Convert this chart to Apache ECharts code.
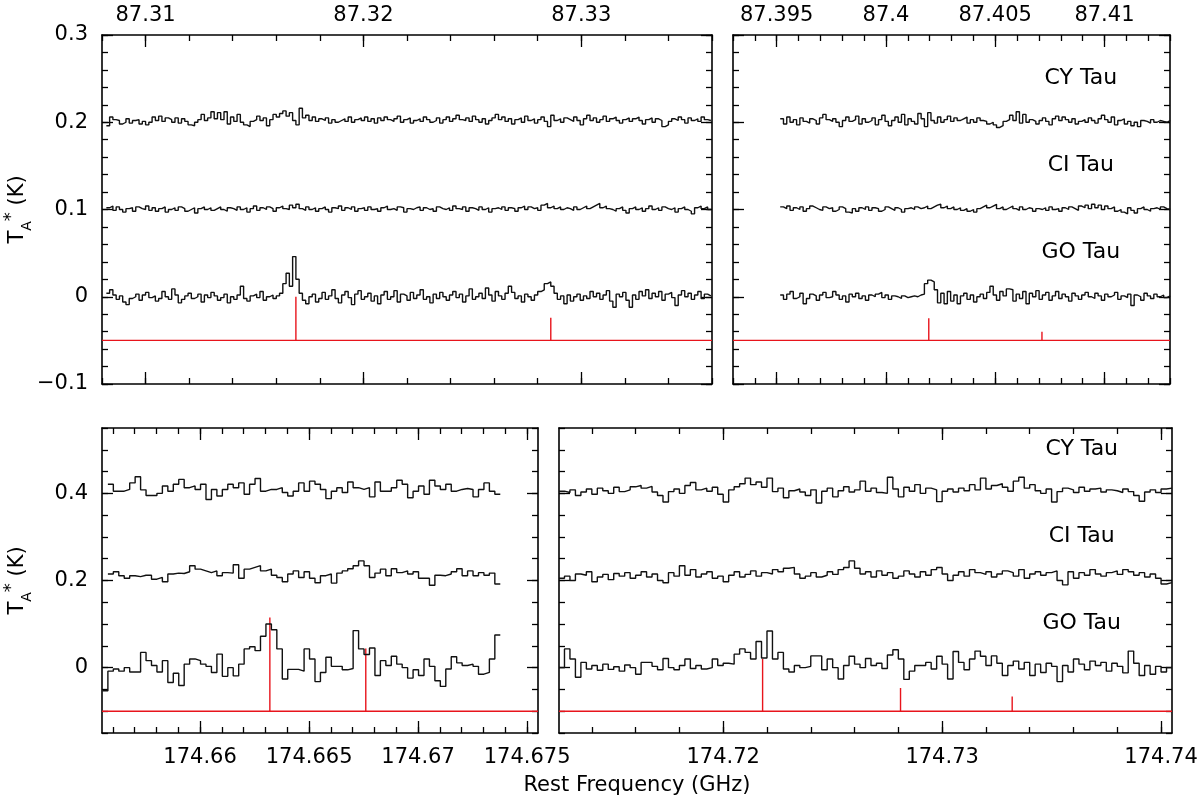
<!DOCTYPE html>
<html>
<head>
<meta charset="utf-8">
<script src="https://cdn.jsdelivr.net/npm/echarts@6/dist/echarts.min.js"></script>
<style>
  html, body { margin: 0; padding: 0; background: #fff; }
  #main { width: 1200px; height: 800px; }
</style>
</head>
<body>
<div id="main"></div>
<script>
// ---- data (intensities in mK, relative to each source's offset) ----
var sources = ['CY Tau', 'CI Tau', 'GO Tau'];
var offsetsTop = [0.2, 0.1, 0];
var offsetsBottom = [0.4, 0.2, 0];

// top left: 87.308 - 87.336 GHz
var tlStart = 87.3082, tlStep = 0.00015;
var tlCY = [-4,6,3,2,-2,0,4,-1,2,3,-2,1,-3,0,6,2,7,1,5,3,
  0,5,-1,4,1,-3,-4,0,3,9,2,5,12,4,11,3,12,-2,6,1,
  9,0,-3,-5,1,3,7,2,5,-4,3,9,6,10,13,7,11,2,-3,16,
  5,8,2,6,1,4,2,5,-1,3,0,2,4,1,6,0,3,5,2,6,
  1,4,-1,5,2,6,3,1,4,7,0,3,5,-1,2,4,1,6,3,0,
  2,5,-1,3,6,1,4,8,3,2,5,1,7,3,0,4,-2,2,5,9,
  3,6,1,4,-2,3,5,0,7,2,4,-1,3,6,1,-5,8,2,4,0,
  5,3,1,6,2,-3,4,8,2,5,0,3,7,1,4,6,2,-1,3,5,
  1,4,6,2,-2,3,5,0,4,2,-5,-3,1,4,2,6,3,-1,5,2,
  4,1,6,3,2];
var tlCI = [2,4,-1,3,0,-3,1,2,-2,3,1,0,4,-1,2,-2,1,3,-3,0,
  2,-1,3,1,-2,0,2,-4,1,3,0,2,-1,1,3,0,-2,2,1,-1,
  3,0,2,-3,1,4,-1,2,0,3,1,-2,2,4,1,0,5,2,6,1,
  -1,3,0,2,-2,1,3,0,-3,2,1,4,-1,2,0,3,-2,1,2,-1,
  3,0,1,-2,2,4,0,1,-1,3,2,-3,1,0,2,3,-1,2,0,1,
  -2,3,1,0,2,-1,4,1,0,3,-2,2,1,-1,3,0,2,-3,1,2,
  0,3,-1,2,1,-2,2,4,0,3,1,2,-1,5,7,2,4,1,3,0,
  2,1,-1,3,0,2,4,1,3,5,7,2,4,1,0,-2,1,3,-1,-4,
  1,3,0,2,-2,1,4,0,2,-1,3,1,0,2,-3,1,3,0,-2,-5,
  2,4,1,3,0];
var tlGO = [4,8,2,-3,1,-6,-9,-2,0,3,-4,2,5,-1,1,-5,-2,6,0,-3,
  9,2,-7,-3,1,4,-2,0,3,-6,2,-1,5,1,-4,-1,3,-7,0,-3,
  2,12,-2,-5,1,3,-1,6,-4,0,2,-2,1,4,15,27,12,46,20,4,
  -4,-8,0,3,-6,-2,5,-3,1,8,-2,-7,2,6,-1,-9,3,7,-3,0,
  4,-5,1,-8,2,6,-3,0,7,-6,3,1,-4,5,-2,2,8,-3,0,-7,
  3,-2,5,0,-4,2,6,-1,3,-6,1,9,-3,0,4,-2,10,2,-5,6,
  1,-3,4,12,5,-2,1,-6,3,0,-4,2,6,8,15,17,12,4,-3,1,
  -8,2,-5,0,3,-4,1,-2,6,0,4,-3,2,7,-5,-12,3,0,5,-4,
  -12,2,-3,6,1,8,-2,4,0,6,-4,3,5,-1,-10,2,7,0,4,-3,
  2,6,-2,3,1];

// top right: 87.393 - 87.413 GHz
var trStart = 87.39516, trStep = 0.00015;
var trCY = [4,-2,6,0,3,-3,5,1,-1,4,2,-2,5,9,3,1,4,0,-5,2,
  6,1,3,7,-2,4,0,2,5,-3,3,8,1,-4,2,6,0,9,-3,4,
  1,-2,10,4,-5,11,2,-1,6,0,3,7,1,5,2,4,6,-1,3,0,
  5,2,1,-2,0,-3,-6,-4,1,3,8,2,12,-1,9,0,3,1,-2,2,
  5,1,-3,4,7,2,6,3,0,4,-2,1,3,0,5,2,-1,4,8,3,
  0,6,-3,2,4,-2,1,-4,0,-5,2,1,-1,3,0,2,1,0,2];
var trCI = [3,1,4,-1,2,0,3,-2,1,4,2,0,-1,3,1,2,-2,0,3,1,
  -3,-4,1,-2,2,0,3,-1,2,1,-2,0,3,1,-1,2,0,-3,1,2,
  0,3,1,2,4,1,3,5,6,2,4,1,3,0,2,-1,1,-2,0,-3,
  1,3,5,2,4,6,1,3,0,2,4,1,-1,3,0,2,1,-2,1,0,
  2,-1,3,0,1,-2,2,0,3,1,-1,4,2,5,1,6,2,5,0,4,
  1,3,-2,0,-3,-5,2,-1,-4,1,3,0,-2,1,2,0,3,1,0];
var trGO = [2,-3,3,6,-2,0,4,-8,-2,3,1,-4,2,5,-1,0,6,2,-3,1,
  -6,3,0,4,-2,1,-4,2,0,3,5,-1,2,-3,1,0,-2,1,-1,0,
  1,0,2,3,15,19,17,8,-7,4,-8,6,-5,2,-8,1,4,-3,2,-6,
  0,3,-2,5,12,2,-4,6,1,9,8,-5,3,-2,6,-8,4,0,7,-3,
  2,5,-4,1,6,-2,3,0,-5,4,1,-3,2,5,0,-2,4,1,-4,3,
  0,2,5,-3,1,-1,3,-10,2,0,-4,4,1,-2,3,0,2,-1,1];

// bottom left: 174.6555 - 174.6755 GHz
var blStart = 174.65577, blStep = 0.00025, blGOStart = 174.65552;
var blCY = [21,5,5,9,24,38,8,-5,-5,0,17,5,21,32,13,17,9,21,-14,9,
  -6,9,21,13,24,-2,21,34,5,9,9,13,2,-6,5,24,5,28,21,9,
  -12,5,13,2,26,13,9,13,-8,26,5,5,13,30,21,-10,5,17,-2,30,
  17,9,21,5,9,11,9,-8,9,24,5,-2];
var blCI = [15,20,11,5,11,9,12,12,3,7,-3,15,17,16,20,34,26,22,18,22,
  11,18,17,36,5,26,30,34,22,26,12,7,-3,15,22,7,20,5,-5,11,
  15,-6,17,22,27,34,45,34,7,17,26,11,27,18,22,15,20,5,5,-11,
  12,11,15,20,27,11,22,11,18,12,17,-8];
var blGO = [-53,-8,-3,-8,0,-10,-10,35,16,5,-10,16,-34,-13,-41,8,20,16,8,3,
  -11,31,-20,0,-19,8,43,48,39,72,100,87,43,-26,-4,-4,-8,43,20,-32,
  -11,24,3,3,-5,-2,85,43,30,45,-18,16,5,26,8,0,-24,-5,-18,20,
  3,-30,-43,-3,25,11,5,8,3,-15,-11,20,75];

// bottom right: 174.7125 - 174.7405 GHz
var brStart = 174.7125, brStep = 0.00025;
var brCY = [5,2,8,-5,3,10,-2,12,6,0,14,4,8,15,18,12,16,3,-5,-20,
  4,10,0,18,25,8,12,5,14,-2,-20,8,15,22,35,20,26,14,35,4,
  12,-10,6,10,3,-5,8,-22,5,12,-8,6,15,3,8,28,5,12,2,0,
  37,10,-8,14,5,20,0,12,8,-19,5,10,3,12,6,20,8,35,10,18,
  22,14,5,28,37,12,20,6,0,10,-20,4,12,8,2,14,5,10,12,3,
  8,6,2,10,4,-5,-18,3,8,2,10,12];
var brCI = [5,10,0,15,12,20,-3,8,14,2,16,10,18,5,12,20,8,15,0,-5,
  18,10,34,12,25,8,15,20,5,10,-3,12,20,8,14,22,10,18,15,25,
  20,28,30,15,5,10,18,8,12,20,14,25,30,45,28,15,20,8,22,12,
  18,5,10,22,15,8,20,12,25,30,15,0,12,20,10,25,18,14,20,8,
  15,22,18,10,25,5,15,20,12,18,22,0,-10,20,5,18,12,25,15,10,
  18,22,14,25,20,12,18,8,15,5,-8,-5];
var brGO = [0,43,20,-22,12,-3,5,-6,8,-4,2,-8,6,0,-15,12,12,3,-5,21,
  0,-5,5,20,-2,5,-3,0,20,5,10,8,31,43,35,20,60,22,84,20,
  35,-3,-10,5,0,3,27,27,-5,20,0,-26,5,26,8,0,21,5,10,-2,
  29,41,20,-27,-8,5,5,12,-3,26,8,-26,37,12,-5,20,38,26,5,27,
  10,-18,5,15,-3,12,-18,8,-11,10,3,-32,5,-10,20,8,-5,15,5,12,
  -8,10,3,-12,38,10,-18,5,-15,3,-10,0];

// line identifications: [frequency, top of marker]
var tlLines = [[87.3169, 0.0], [87.3286, -0.024]];
var trLines = [[87.40196, -0.0245], [87.40714, -0.04]];
var blLines = [[174.6632, 0.115], [174.6676, 0.044]];
var brLines = [[174.7218, 0.02], [174.7281, -0.047], [174.7332, -0.066]];

// axis tick labels
var tlLabels = [87.31, 87.32, 87.33];
var trLabels = [87.395, 87.4, 87.405, 87.41];
var blLabels = [174.66, 174.665, 174.67, 174.675];
var brLabels = [174.72, 174.73, 174.74];
var yTopLabels = [-0.1, 0, 0.1, 0.2, 0.3];
var yBottomLabels = [0, 0.2, 0.4];
var labelTopY = [0.25, 0.15, 0.05];
var labelBottomY = [0.5, 0.3, 0.1];

// ---- chart ----
var FONT = "'DejaVu Sans', 'Liberation Sans', sans-serif";
var INK = '#000';
var RED = '#e8141c';

var panels = [
  { left: 102, top: 35, width: 610, height: 349, xmin: 87.308, xmax: 87.336, ymin: -0.1, ymax: 0.3,
    xMajor: tlLabels, xMinor: 0.002, yMajor: yTopLabels, yMinor: 0.02, labelTop: true, labelLeft: true, base: -0.05 },
  { left: 733, top: 35, width: 437, height: 349, xmin: 87.393, xmax: 87.413, ymin: -0.1, ymax: 0.3,
    xMajor: trLabels, xMinor: 0.001, yMajor: yTopLabels, yMinor: 0.02, labelTop: true, labelLeft: false, base: -0.05 },
  { left: 102, top: 428, width: 436, height: 305, xmin: 174.6555, xmax: 174.6755, ymin: -0.15, ymax: 0.55,
    xMajor: blLabels, xMinor: 0.001, yMajor: yBottomLabels, yMinor: 0.05, labelTop: false, labelLeft: true, base: -0.1 },
  { left: 559, top: 428, width: 613, height: 305, xmin: 174.7125, xmax: 174.7405, ymin: -0.15, ymax: 0.55,
    xMajor: brLabels, xMinor: 0.002, yMajor: yBottomLabels, yMinor: 0.05, labelTop: false, labelLeft: false, base: -0.1 }
];

function steps(min, max, step) {
  var out = [];
  for (var k = Math.ceil(min / step - 1e-6); k * step <= max + 1e-9; k++) {
    out.push(+(k * step).toFixed(5));
  }
  return out;
}

function fmtY(v) {
  if (Math.abs(v) < 1e-9) return '0';
  return v < 0 ? '\u2212' + (-v) : String(v);
}

var yName = {
  name: '{t|T}{s|A}{p|*}{t| (K)}',
  nameLocation: 'middle',
  nameRotate: 90,
  nameGap: 68,
  nameMoveOverlap: false,
  nameTextStyle: {
    rich: {
      t: { fontSize: 21, fontFamily: FONT, color: INK, lineHeight: 32 },
      s: { fontSize: 14, fontFamily: FONT, color: INK, verticalAlign: 'bottom', lineHeight: 32 },
      p: { fontSize: 18, fontFamily: FONT, color: INK, verticalAlign: 'top', lineHeight: 32 }
    }
  }
};

var grids = [], xAxes = [], yAxes = [], series = [];

panels.forEach(function (p, g) {
  grids.push({ left: p.left, top: p.top, width: p.width, height: p.height,
    containLabel: false, outerBoundsMode: 'none' });
  var xMinorVals = steps(p.xmin, p.xmax, p.xMinor);
  var yMinorVals = steps(p.ymin, p.ymax, p.yMinor);

  function xAx(pos, major, withLabel) {
    return {
      type: 'value', gridIndex: g, min: p.xmin, max: p.xmax, position: pos,
      axisLine: { show: major, onZero: false, lineStyle: { color: INK, width: 1.6 } },
      axisTick: { show: true, inside: true, length: major ? 12 : 6,
        customValues: major ? p.xMajor : xMinorVals, lineStyle: { color: INK, width: 1.3 } },
      axisLabel: { show: withLabel, customValues: p.xMajor, color: INK, fontSize: 21, fontFamily: FONT,
        margin: pos === 'top' ? 9 : 14, formatter: function (v) { return String(+v.toFixed(4)); } },
      splitLine: { show: false }
    };
  }
  function yAx(pos, major, withLabel) {
    var a = {
      type: 'value', gridIndex: g, min: p.ymin, max: p.ymax, position: pos,
      axisLine: { show: major, onZero: false, lineStyle: { color: INK, width: 1.6 } },
      axisTick: { show: true, inside: true, length: major ? 11 : 6,
        customValues: major ? p.yMajor : yMinorVals, lineStyle: { color: INK, width: 1.3 } },
      axisLabel: { show: withLabel, customValues: p.yMajor, color: INK, fontSize: 21, fontFamily: FONT,
        margin: 14, formatter: fmtY },
      splitLine: { show: false }
    };
    if (withLabel) Object.assign(a, yName);
    return a;
  }

  xAxes.push(xAx('top', true, p.labelTop), xAx('top', false, false),
             xAx('bottom', true, !p.labelTop), xAx('bottom', false, false));
  yAxes.push(yAx('left', true, p.labelLeft), yAx('left', false, false),
             yAx('right', true, false), yAx('right', false, false));
});

function spectrum(g, start, step, vals, offset) {
  var pts = vals.map(function (v, i) { return [start + i * step, offset + v / 1000]; });
  pts.push([start + vals.length * step, offset + vals[vals.length - 1] / 1000]);
  return { type: 'line', xAxisIndex: 4 * g, yAxisIndex: 4 * g, data: pts, step: 'end',
    showSymbol: false, silent: true, animation: false,
    lineStyle: { color: '#111', width: 1.4 } };
}

function redLine(g, pts) {
  return { type: 'line', xAxisIndex: 4 * g, yAxisIndex: 4 * g, data: pts,
    showSymbol: false, silent: true, animation: false, lineStyle: { color: RED, width: 1.4 } };
}

function markers(g, lines) {
  var p = panels[g];
  series.push(redLine(g, [[p.xmin, p.base], [p.xmax, p.base]]));
  lines.forEach(function (l) { series.push(redLine(g, [[l[0], p.base], [l[0], l[1]]])); });
}

function sourceLabels(g, x, ys) {
  series.push({ type: 'scatter', xAxisIndex: 4 * g, yAxisIndex: 4 * g, silent: true, animation: false,
    data: sources.map(function (s, i) { return [x, ys[i], s]; }),
    symbolSize: 1, itemStyle: { color: 'rgba(0,0,0,0)' },
    label: { show: true, position: [0, 0], align: 'center', verticalAlign: 'middle',
      color: INK, opacity: 1, textBorderWidth: 0, fontSize: 22, fontFamily: FONT,
      formatter: function (d) { return d.data[2]; } } });
}

markers(0, tlLines);
markers(1, trLines);
markers(2, blLines);
markers(3, brLines);

series.push(spectrum(0, tlStart, tlStep, tlCY, offsetsTop[0]));
series.push(spectrum(0, tlStart, tlStep, tlCI, offsetsTop[1]));
series.push(spectrum(0, tlStart, tlStep, tlGO, offsetsTop[2]));
series.push(spectrum(1, trStart, trStep, trCY, offsetsTop[0]));
series.push(spectrum(1, trStart, trStep, trCI, offsetsTop[1]));
series.push(spectrum(1, trStart, trStep, trGO, offsetsTop[2]));
series.push(spectrum(2, blStart, blStep, blCY, offsetsBottom[0]));
series.push(spectrum(2, blStart, blStep, blCI, offsetsBottom[1]));
series.push(spectrum(2, blGOStart, blStep, blGO, offsetsBottom[2]));
series.push(spectrum(3, brStart, brStep, brCY, offsetsBottom[0]));
series.push(spectrum(3, brStart, brStep, brCI, offsetsBottom[1]));
series.push(spectrum(3, brStart, brStep, brGO, offsetsBottom[2]));

sourceLabels(1, 87.40894, labelTopY);
sourceLabels(3, 174.7364, labelBottomY);

var myChart = echarts.init(document.getElementById('main'), null, { renderer: 'canvas' });
myChart.setOption({
  backgroundColor: '#fff',
  animation: false,
  grid: grids,
  xAxis: xAxes,
  yAxis: yAxes,
  series: series,
  graphic: [{
    type: 'text', x: 637, y: 786,
    style: { text: 'Rest Frequency (GHz)', fill: INK, fontSize: 21, fontFamily: FONT,
      align: 'center', verticalAlign: 'middle' }
  }]
});
</script>
</body>
</html>
